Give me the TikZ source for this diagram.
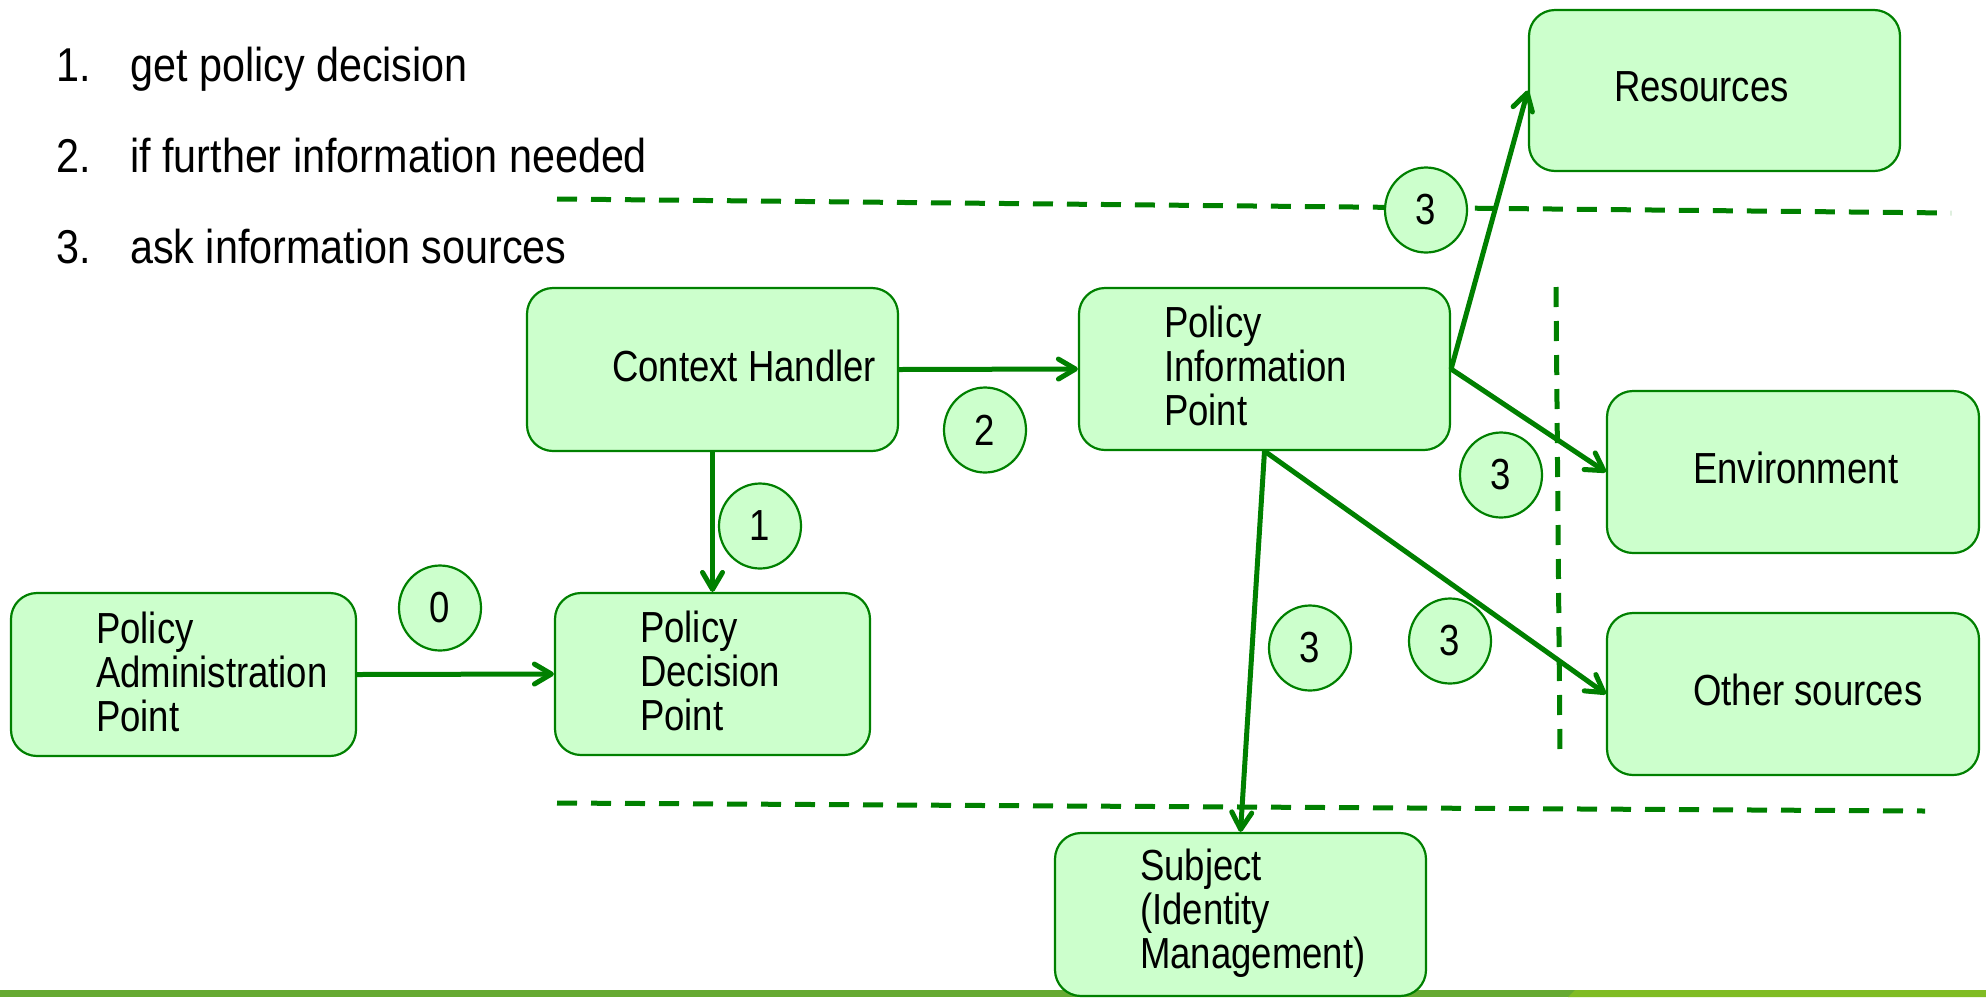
\documentclass[tikz,border=0pt]{standalone}
\usepackage{fontspec}
\setmainfont{Liberation Sans}[FakeStretch=0.84]
\newfontfamily\listfont{Liberation Sans}[FakeStretch=0.87]
\usetikzlibrary{arrows.meta,shapes.geometric}
\definecolor{linegreen}{RGB}{0,128,0}
\definecolor{boxfill}{RGB}{204,255,204}
\definecolor{barleft}{RGB}{102,170,50}
\definecolor{barright}{RGB}{128,188,36}

\begin{document}
\begin{tikzpicture}[x=1pt,y=-1pt,
  box/.style={draw=linegreen, line width=2.2pt, fill=boxfill, rounded corners=26pt, inner sep=0pt},
  boxtext/.style={anchor=west, inner sep=0pt, align=left, font=\fontsize{43.5}{44}\selectfont},
  badge/.style={ellipse, draw=linegreen, line width=2.2pt, fill=boxfill, minimum width=82pt, minimum height=85pt, inner sep=0pt, font=\fontsize{43.5}{44}\selectfont},
  flow/.style={draw=linegreen, line width=5pt, -{Straight Barb[length=17pt,width=20pt,round]}},
  zone/.style={draw=linegreen, line width=5pt, dash pattern=on 20pt off 14pt},
  item/.style={anchor=base west, inner sep=0pt, font=\listfont\fontsize{47.5}{50}\selectfont},
]
\useasboundingbox (0,0) rectangle (1986,997);

% footer bar
\fill[barleft] (0,990) rectangle (1575,997);
\fill[barright] (1568,997) -- (1575,990) -- (1986,990) -- (1986,997) -- cycle;

% numbered steps
\node[item] (n1) at (56,81) {1.};
\node[item] (t1) at (130,81) {get policy decision};
\node[item] (n2) at (56,172) {2.};
\node[item] (t2) at (130,172) {if further information needed};
\node[item] (n3) at (56,263) {3.};
\node[item] (t3) at (130,263) {ask information sources};

% zone boundaries
\coordinate (ztl) at (557,199);
\coordinate (ztr) at (1951,213);
\coordinate (zbl) at (557,803);
\coordinate (zbr) at (1925,811);
\coordinate (zvt) at (1556,287);
\coordinate (zvb) at (1560,755);
\draw[zone] (ztl) -- (ztr);
\draw[zone] (zbl) -- (zbr);
\draw[zone] (zvt) -- (zvb);

% components
\node[box, minimum width=371pt, minimum height=163pt] (ch)  at (712.5,369.5) {};
\node[box, minimum width=371pt, minimum height=162pt] (pip) at (1264.5,369) {};
\node[box, minimum width=315pt, minimum height=162pt] (pdp) at (712.5,674) {};
\node[box, minimum width=345pt, minimum height=163pt] (pap) at (183.5,674.5) {};
\node[box, minimum width=371pt, minimum height=161pt] (res) at (1714.5,90.5) {};
\node[box, minimum width=372pt, minimum height=162pt] (env) at (1793,472) {};
\node[box, minimum width=372pt, minimum height=162pt] (oth) at (1793,694) {};
\node[box, minimum width=371pt, minimum height=163pt] (sub) at (1240.5,914.5) {};

\node[boxtext] (cht)  at ([xshift=86pt,yshift=4pt]ch.west) {Context Handler};
\node[boxtext] (pipt) at ([xshift=86pt,yshift=3pt]pip.west) {Policy\\Information\\Point};
\node[boxtext] (pdpt) at ([xshift=86pt,yshift=3pt]pdp.west) {Policy\\Decision\\Point};
\node[boxtext] (papt) at ([xshift=86pt,yshift=3pt]pap.west) {Policy\\Administration\\Point};
\node[boxtext] (rest) at ([xshift=86pt,yshift=4pt]res.west) {Resources};
\node[boxtext] (envt) at ([xshift=87pt,yshift=4pt]env.west) {Environment};
\node[boxtext] (otht) at ([xshift=87pt,yshift=4pt]oth.west) {Other sources};
\node[boxtext] (subt) at ([xshift=86pt,yshift=1pt]sub.west) {Subject\\(Identity\\Management)};

% message flows
\draw[flow] (pap.east) -- (pdp.west);
\draw[flow] (ch.south) -- (pdp.north);
\draw[flow] (ch.east) -- (pip.west);
\draw[flow] (pip.east) -- (res.west);
\draw[flow] (pip.east) -- (env.west);
\draw[flow] (pip.south) -- (oth.west);
\draw[flow] (pip.south) -- (sub.north);

% step badges
\node[badge] (b0)  at (440,608) {0};
\node[badge] (b1)  at (760,526) {1};
\node[badge] (b2)  at (985,430) {2};
\node[badge] (b3r) at (1426,210) {3};
\node[badge] (b3e) at (1501,475) {3};
\node[badge] (b3s) at (1310,648) {3};
\node[badge] (b3o) at (1450,641) {3};
\end{tikzpicture}
\end{document}
